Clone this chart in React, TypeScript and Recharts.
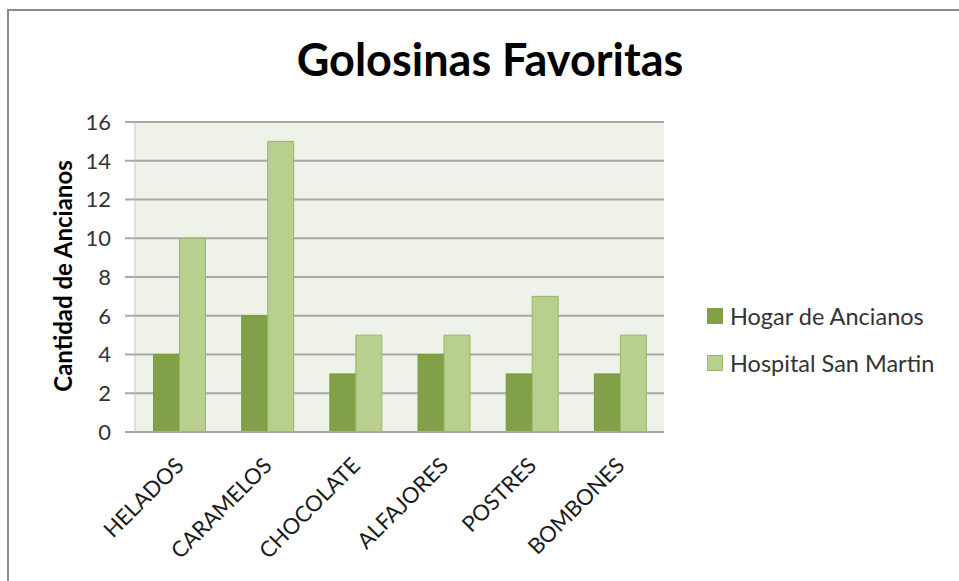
import { Bar, BarChart, CartesianGrid, XAxis, YAxis } from "recharts";

const categories = ["HELADOS", "CARAMELOS", "CHOCOLATE", "ALFAJORES", "POSTRES", "BOMBONES"];
const hogarValues = [4, 6, 3, 4, 3, 3];
const hospitalValues = [10, 15, 5, 5, 7, 5];
const yTicks = [0, 2, 4, 6, 8, 10, 12, 14, 16];

const data = categories.map((name, i) => ({
  name,
  hogar: hogarValues[i],
  hospital: hospitalValues[i],
}));

const FONT = "Lato, 'Open Sans', sans-serif";
const DARK = "#82A047";
const LIGHT = "#B8CF8E";

// rotated category label, its baseline ends just right of the category centre
function XTick({ x, y, payload }: any) {
  const ax = x + 6;
  const ay = y + 27;
  return (
    <text
      x={ax}
      y={ay}
      transform={`rotate(-45 ${ax} ${ay})`}
      textAnchor="end"
      fontSize={22}
      fill="#1a1a1a"
      fontFamily={FONT}
    >
      {payload.value}
    </text>
  );
}

function LegendBox() {
  const items = [
    { label: "Hogar de Ancianos", color: DARK, border: DARK },
    { label: "Hospital San Martin", color: LIGHT, border: "#9DBB66" },
  ];
  return (
    <div style={{ position: "absolute", left: 707, top: 292, fontFamily: FONT }}>
      {items.map((it) => (
        <div key={it.label} style={{ display: "flex", alignItems: "center", height: 47 }}>
          <span
            style={{
              display: "inline-block",
              width: 14,
              height: 14,
              background: it.color,
              border: `1px solid ${it.border}`,
              marginRight: 7,
            }}
          />
          <span style={{ fontSize: 23.5, color: "#333" }}>{it.label}</span>
        </div>
      ))}
    </div>
  );
}

export default function App() {
  return (
    <div style={{ position: "absolute", left: 0, top: 0, width: 959, height: 581, background: "#fff", overflow: "hidden" }}>
      <div
        style={{
          position: "absolute",
          left: 7,
          top: 9,
          width: 960,
          height: 580,
          border: "2px solid #8a8a8a",
          boxSizing: "border-box",
        }}
      />
      <div
        style={{
          position: "absolute",
          left: 0,
          width: 980,
          top: 37,
          lineHeight: "45px",
          textAlign: "center",
          fontFamily: FONT,
          fontWeight: 700,
          fontSize: 45,
          color: "#000",
        }}
      >
        Golosinas Favoritas
      </div>
      <div
        style={{
          position: "absolute",
          left: 63,
          top: 276,
          transform: "translate(-50%, -50%) rotate(-90deg)",
          whiteSpace: "nowrap",
          fontFamily: FONT,
          fontWeight: 700,
          fontSize: 24,
          lineHeight: "24px",
          color: "#000",
        }}
      >
        Cantidad de Ancianos
      </div>
      <div style={{ position: "absolute", left: 0, top: 0 }}>
        <BarChart
          width={959}
          height={581}
          data={data}
          margin={{ top: 122, right: 295, bottom: 0, left: 75 }}
          barCategoryGap="21%"
          barGap={0}
        >
          <CartesianGrid vertical={false} stroke="#A8A8A8" strokeWidth={2} fill="#EEF2E8" />
          <XAxis
            dataKey="name"
            height={149}
            tick={<XTick />}
            tickLine={false}
            axisLine={{ stroke: "#A8A8A8", strokeWidth: 2 }}
            interval={0}
          />
          <YAxis
            width={60}
            domain={[0, 16]}
            ticks={yTicks}
            interval={0}
            tickSize={10}
            tickMargin={14}
            tickLine={{ stroke: "#A8A8A8", strokeWidth: 2 }}
            axisLine={{ stroke: "#C8C8C8", strokeWidth: 1 }}
            tick={{ fontSize: 22, fill: "#333", fontFamily: FONT }}
          />
          <Bar dataKey="hogar" name="Hogar de Ancianos" fill={DARK} stroke="#789A3E" strokeWidth={1} isAnimationActive={false} />
          <Bar dataKey="hospital" name="Hospital San Martin" fill={LIGHT} stroke="#98B762" strokeWidth={1} isAnimationActive={false} />
        </BarChart>
      </div>
      <LegendBox />
    </div>
  );
}
